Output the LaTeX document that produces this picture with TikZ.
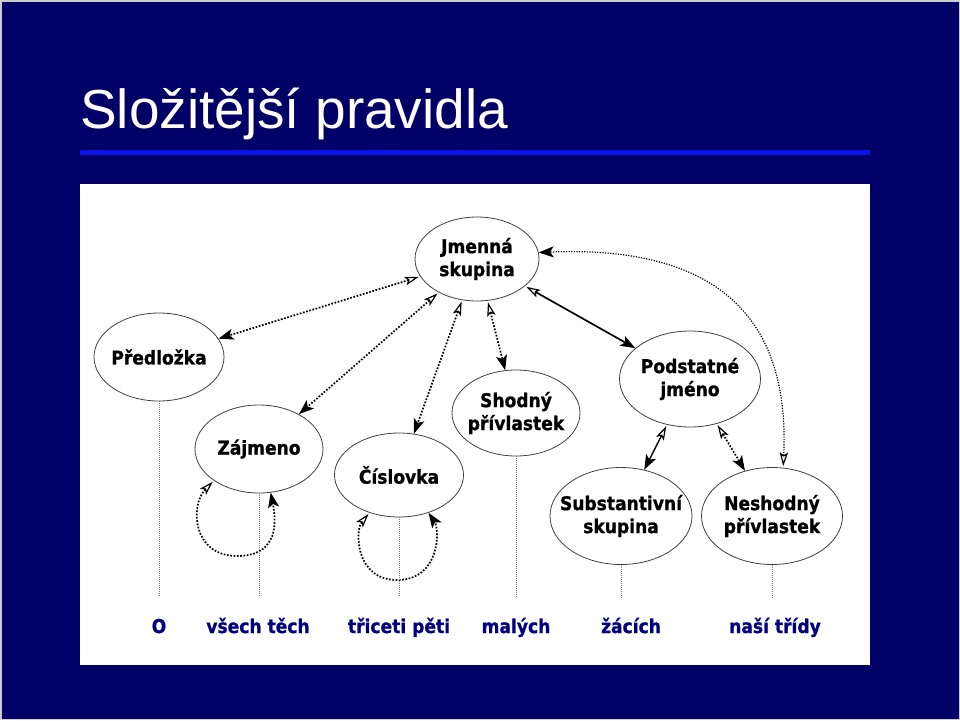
\documentclass[tikz,border=0pt]{standalone}
\usepackage{fontspec}
\setmainfont{Liberation Sans}
\newfontfamily\nodefont[FakeStretch=0.9,FakeBold=1.0]{DejaVu Sans Bold}
\usetikzlibrary{arrows.meta,shapes.geometric}
\definecolor{navybg}{RGB}{0,0,102}
\definecolor{bluebar}{RGB}{10,20,230}
\definecolor{wordblue}{RGB}{0,0,128}
\begin{document}
\begin{tikzpicture}[x=1pt,y=-1pt,
  ell/.style={ellipse,draw=black!75,line width=0.8pt,fill=white,inner sep=0pt},
  txt/.style={font=\nodefont\fontsize{19}{23}\selectfont,align=center,inner sep=0pt},
  dots/.style={line width=1.7pt,dash pattern=on 1.7pt off 1.6pt},
  thindots/.style={line width=1.2pt,dash pattern=on 1.2pt off 1.4pt},
  solidlink/.style={line width=1.7pt},
  tips/.style={{Stealth[open,length=14pt,width=8.5pt,inset=3pt,line width=1.2pt]}-{Stealth[length=15pt,width=11pt,inset=3.5pt]},shorten <=1.5pt},
  vline/.style={gray,line width=0.8pt,dash pattern=on 1pt off 1pt},
  word/.style={font=\nodefont\fontsize{19}{23}\selectfont,text=wordblue,anchor=base,inner sep=0pt}
]
\useasboundingbox (0,0) rectangle (960,720);
\fill[navybg] (0,0) rectangle (960,720);
\draw[gray!40,line width=1.5pt] (0.75,0.75) rectangle (959.25,719.25);
\node[anchor=base west,text=white,inner sep=0pt,font=\fontsize{55}{60}\selectfont] (title) at (80,128) {Složitější pravidla};
\fill[bluebar] (80,150) rectangle (870,155);
\fill[white] (80,184) rectangle (870,665);

% ellipses
\node[ell,minimum width=124pt,minimum height=84pt] (jm) at (477,259) {};
\node[ell,minimum width=130pt,minimum height=88pt] (pr) at (159,357) {};
\node[ell,minimum width=128pt,minimum height=88pt] (za) at (259,449) {};
\node[ell,minimum width=129pt,minimum height=84pt] (ci) at (399,475) {};
\node[ell,minimum width=128pt,minimum height=86pt] (sh) at (516,413) {};
\node[ell,minimum width=141pt,minimum height=96pt] (po) at (690,379) {};
\node[ell,minimum width=142pt,minimum height=97pt] (su) at (621,516) {};
\node[ell,minimum width=141pt,minimum height=97pt] (ne) at (772,516) {};

\node[txt] (jmt) at (jm) {Jmenná\\skupina};
\node[txt] (prt) at (pr) {Předložka};
\node[txt] (zat) at (za) {Zájmeno};
\node[txt] (cit) at (ci) {Číslovka};
\node[txt] (sht) at (sh) {Shodný\\přívlastek};
\node[txt] (pot) at (po) {Podstatné\\jméno};
\node[txt] (sut) at (su) {Substantivní\\skupina};
\node[txt] (net) at (ne) {Neshodný\\přívlastek};

% connectors
\draw[dots,tips] (jm) -- (pr);
\draw[dots,tips] (jm) -- (za);
\draw[dots,tips] (jm) -- (ci);
\draw[dots,tips] (jm) -- (sh);
\draw[solidlink,tips] (jm) -- (po);
\draw[line width=1.4pt,tips] (po) -- (su);
\draw[dots,tips] (po) -- (ne);
\draw[thindots,tips] (ne.77) .. controls (790,320) and (720,245) .. (jm.6);
\draw[dots,tips] (za.215) .. controls (190,505) and (192,556) .. (237,556)
                 .. controls (280,556) and (276,520) .. (za.285);
\draw[dots,tips] (ci.232) .. controls (355,530) and (355,580) .. (397,580)
                 .. controls (440,580) and (440,530) .. (ci.308);

% vertical guides
\coordinate (b1) at (159,597);
\coordinate (b2) at (259,597);
\coordinate (b3) at (399,597);
\coordinate (b4) at (516,597);
\coordinate (b5) at (621,597);
\coordinate (b6) at (772,597);
\draw[vline] (pr.south) -- (b1);
\draw[vline] (za.south) -- (b2);
\draw[vline] (ci.south) -- (b3);
\draw[vline] (sh.south) -- (b4);
\draw[vline] (su.south) -- (b5);
\draw[vline] (ne.south) -- (b6);

% words
\node[word] (w1) at (159,633) {O};
\node[word] (w2) at (258,633) {všech těch};
\node[word] (w3) at (399,633) {třiceti pěti};
\node[word] (w4) at (516,633) {malých};
\node[word] (w5) at (631,633) {žácích};
\node[word] (w6) at (775,633) {naší třídy};
\end{tikzpicture}
\end{document}
